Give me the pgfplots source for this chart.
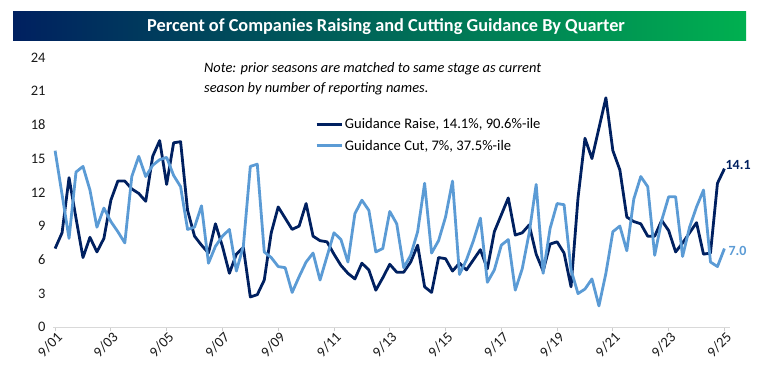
\documentclass[border=0pt]{standalone}
\usepackage{fontspec}
\setmainfont{Carlito}
\usepackage{pgfplots}
\usepackage{pgfplotstable}
\pgfplotsset{compat=1.18}
\definecolor{raise}{RGB}{0,32,96}
\definecolor{cut}{RGB}{91,155,213}
\definecolor{navy}{RGB}{0,32,96}
\definecolor{tgreen}{RGB}{0,176,80}

\pgfplotstableread{
i raise cut
0 7.0 15.7
1 8.4 11.8
2 13.3 7.9
3 9.7 13.8
4 6.2 14.3
5 8.0 12.2
6 6.7 8.9
7 7.9 10.6
8 11.3 9.4
9 13.0 8.5
10 13.0 7.5
11 12.3 13.4
12 11.9 15.2
13 11.2 13.4
14 15.2 14.4
15 16.6 14.9
16 12.7 15.1
17 16.4 13.5
18 16.5 12.5
19 10.4 8.7
20 8.1 8.9
21 7.3 10.8
22 6.6 5.7
23 9.2 7.2
24 7.2 8.1
25 4.8 8.7
26 6.5 5.0
27 7.1 7.2
28 2.7 14.3
29 2.9 14.5
30 4.2 6.7
31 8.4 6.2
32 10.7 5.4
33 9.7 5.3
34 8.7 3.1
35 9.0 4.5
36 11.0 5.8
37 8.1 6.6
38 7.7 4.2
39 7.6 6.3
40 6.5 8.4
41 5.5 7.8
42 4.8 5.8
43 4.3 10.1
44 5.7 11.3
45 5.1 10.4
46 3.3 6.7
47 4.4 7.0
48 5.6 10.3
49 4.9 9.2
50 4.9 5.3
51 5.8 6.4
52 7.3 8.5
53 3.6 12.8
54 3.1 6.6
55 6.2 7.7
56 6.1 9.8
57 5.0 13.0
58 5.7 4.7
59 5.1 6.0
60 6.0 7.7
61 6.9 9.7
62 5.2 4.0
63 8.5 5.1
64 10.0 7.3
65 11.5 7.8
66 8.2 3.3
67 8.4 5.2
68 9.1 8.4
69 6.5 12.7
70 5.0 4.8
71 7.4 8.8
72 7.6 11.0
73 6.6 10.9
74 3.6 5.1
75 11.5 3.0
76 16.8 3.4
77 15.0 4.3
78 17.7 1.9
79 20.4 4.8
80 15.7 8.5
81 14.0 9.0
82 9.8 6.8
83 9.4 11.4
84 9.2 13.4
85 8.1 12.5
86 8.1 6.4
87 9.5 9.5
88 8.6 11.6
89 6.7 11.6
90 7.5 6.3
91 8.4 8.9
92 9.3 10.7
93 6.5 12.2
94 6.6 5.8
95 12.8 5.4
96 14.1 7.0
}\data

\begin{document}
\begin{tikzpicture}[x=1pt,y=1pt]
\useasboundingbox (0pt,0pt) rectangle (758pt,365pt);
\shade[left color=navy, right color=tgreen] (13pt,324pt) rectangle (746pt,353pt);
\node[text=white, font=\bfseries\fontsize{18.3}{20}\selectfont] at (386pt,338.5pt) {Percent of Companies Raising and Cutting Guidance By Quarter};
\node[anchor=west, align=left, inner sep=0pt, font=\itshape\fontsize{14.4}{20}\selectfont] at (204pt,286pt) {Note: prior seasons are matched to same stage as current\\season by number of reporting names.};
\begin{axis}[
  at={(53pt,37.7pt)}, anchor=south west,
  scale only axis, width=677pt, height=270pt,
  xmin=-0.3, xmax=96.8, ymin=0, ymax=24,
  ytick={0,3,...,24},
  xtick={0,8,...,96},
  xticklabels={9/01,9/03,9/05,9/07,9/09,9/11,9/13,9/15,9/17,9/19,9/21,9/23,9/25},
  axis x line*=bottom, axis y line*=left,
  x axis line style={-, draw=black!15, line width=1pt},
  y axis line style={draw=none},
  ytick style={draw=none},
  xtick style={draw=black!20, line width=0.8pt},
  tick align=outside, major tick length=4pt,
  /pgf/number format/assume math mode=true,
  ticklabel style={font=\fontsize{14.5}{16}\selectfont, text=black!90},
  xticklabel style={rotate=45, anchor=east, xshift=4pt, yshift=-6pt},
  legend style={at={(0.387,0.712)}, anchor=west, draw=none, fill=none,
    font=\fontsize{14.6}{16}\selectfont, row sep=6pt, inner sep=0pt},
  legend cell align=left,
  legend image code/.code={\draw[#1] (0pt,0pt) -- (25pt,0pt);},
  clip=false,
]
\addplot[raise, line width=2.8pt, line join=round] table[x=i,y=raise]{\data};
\addlegendentry{Guidance Raise, 14.1\%, 90.6\%-ile}
\addplot[cut, line width=2.8pt, line join=round] table[x=i,y=cut]{\data};
\addlegendentry{Guidance Cut, 7\%, 37.5\%-ile}
\node[anchor=west, inner sep=1pt, yshift=3.5pt, text=raise, font=\bfseries\fontsize{14}{15}\selectfont] at (axis cs:96,14.1) {14.1};
\node[anchor=west, inner sep=1pt, xshift=3pt, yshift=-2pt, text=cut, font=\bfseries\fontsize{14}{15}\selectfont] at (axis cs:96,7.0) {7.0};
\end{axis}
\end{tikzpicture}
\end{document}
